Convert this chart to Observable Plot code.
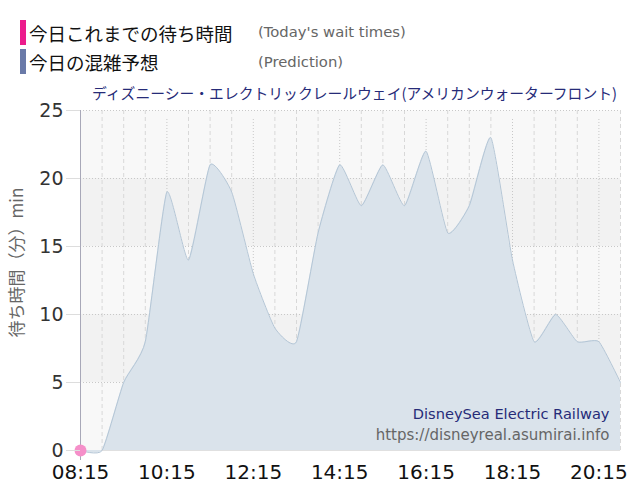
<!DOCTYPE html>
<html>
<head>
<meta charset="utf-8">
<script src="https://cdn.jsdelivr.net/npm/d3@7"></script>
<script src="https://cdn.jsdelivr.net/npm/@observablehq/plot@0.6"></script>
<style>
  body { margin: 0; background: #fff; font-family: "DejaVu Sans", "Noto Sans CJK JP", sans-serif; }
  #wrap { position: relative; width: 640px; height: 500px; overflow: hidden; }
  .leg { position: absolute; left: 20px; height: 25px; display: flex; align-items: center; }
  .bar { width: 6px; height: 25px; margin-right: 3px; }
  .ja { font-family: "Noto Sans CJK JP", sans-serif; font-size: 18.5px; color: #111; }
  .en { position: absolute; left: 258px; font-family: "DejaVu Sans", sans-serif; font-size: 14.8px; line-height: 16px; color: #666; }
  #title { position: absolute; right: 23px; top: 82px; font-family: "Noto Sans CJK JP", sans-serif; font-size: 14.8px; color: #262b78; white-space: nowrap; }
  #chart { position: absolute; left: 0; top: 80px; }
</style>
</head>
<body>
<div id="wrap">
  <div class="leg" style="top:20px"><div class="bar" style="background:#ec1c8c"></div><span class="ja">今日これまでの待ち時間</span></div>
  <div class="en" style="top:24px">(Today's wait times)</div>
  <div class="leg" style="top:49px"><div class="bar" style="background:#6a7aa8"></div><span class="ja">今日の混雑予想</span></div>
  <div class="en" style="top:54px">(Prediction)</div>
  <div id="title">ディズニーシー・エレクトリックレールウェイ(アメリカンウォーターフロント)</div>
  <div id="chart"></div>
</div>
<script>
// ---- data ----
const times = ["08:15","08:45","09:15","09:45","10:15","10:45","11:15","11:45","12:15","12:45","13:15","13:45","14:15","14:45","15:15","15:45","16:15","16:45","17:15","17:45","18:15","18:45","19:15","19:45","20:15","20:45"];
const predicted = [0,0,5,8,19,14,21,19,13,9,8,16,21,18,21,18,22,16,18,23,14,8,10,8,8,5];
const todayTimes = ["08:15"];
const todayWaits = [0];
const xTickLabels = ["08:15","10:15","12:15","14:15","16:15","18:15","20:15"];
const yTicks = [0,5,10,15,20,25];
const bandLow = [5,15];
const bandHigh = [10,20];
const yLabel = "待ち時間（分）min";
const watermark1 = "DisneySea Electric Railway";
const watermark2 = "https://disneyreal.asumirai.info";

// ---- helpers ----
const toMin = s => { const [h, m] = s.split(":").map(Number); return h * 60 + m; };
const fmt = v => String(Math.floor(v / 60)).padStart(2, "0") + ":" + String(v % 60).padStart(2, "0");
const predData = times.map((t, i) => ({t: toMin(t), v: predicted[i]}));
const todayData = todayTimes.map((t, i) => ({t: toMin(t), v: todayWaits[i]}));
const xStart = toMin(times[0]), xEnd = toMin(times[times.length - 1]);
const majorMins = xTickLabels.map(toMin);
const gridMins = times.map(toMin).filter(m => m !== xStart);
const bands = bandLow.map((lo, i) => ({lo, hi: bandHigh[i]}));
const curve = d3.curveCardinal.tension(0.5);

const chart = Plot.plot({
  width: 640,
  height: 420,
  marginTop: 30,
  marginBottom: 50,
  marginLeft: 80,
  marginRight: 20,
  style: {fontFamily: "'DejaVu Sans', 'Noto Sans CJK JP', sans-serif", fontSize: "18px", background: "transparent", overflow: "visible"},
  x: {domain: [xStart, xEnd], axis: null},
  y: {domain: [0, 25], axis: null},
  marks: [
    Plot.frame({fill: "#f8f8f8", stroke: "none"}),
    Plot.rect(bands, {x1: () => xStart, x2: () => xEnd, y1: "lo", y2: "hi", fill: "#f2f2f2"}),
    Plot.ruleX(gridMins.filter(m => !majorMins.includes(m)), {stroke: "#d8d8d8", strokeDasharray: "4,3", strokeWidth: 1}),
    Plot.ruleX(gridMins.filter(m => majorMins.includes(m)), {stroke: "#c8c8c8", strokeDasharray: "1,2", strokeWidth: 1, y1: 0, y2: 25, insetBottom: -8}),
    Plot.ruleY(yTicks.filter(v => v > 0), {stroke: "#c8c8c8", strokeDasharray: "1,2", strokeWidth: 1}),
    Plot.ruleY([0], {stroke: "#e0e0e0", strokeWidth: 1}),
    Plot.areaY(predData, {x: "t", y: "v", curve, fill: "#dae3eb", fillOpacity: 1}),
    Plot.lineY(predData, {x: "t", y: "v", curve, stroke: "#b4c6d6", strokeWidth: 1}),
    Plot.ruleX([xStart], {stroke: "#a8a8b8", strokeWidth: 1, insetBottom: -10}),
    Plot.dot(todayData, {x: "t", y: "v", r: 6, fill: "#f58fc9", stroke: "none"}),
    Plot.axisY({ticks: yTicks, tickSize: 14, tickPadding: 3, stroke: "#dddddd", fill: "#333", fontSize: 19, label: null}),
    Plot.axisX({ticks: majorMins, tickFormat: fmt, tickSize: 0, tickPadding: 14, fill: "#111", fontSize: 20, label: null}),
    Plot.text([yLabel], {frameAnchor: "left", textAnchor: "middle", dx: -63, dy: -18, rotate: -90, fill: "#666", fontSize: 17, fontFamily: "'Noto Sans CJK JP', sans-serif"}),
    Plot.text([watermark1], {frameAnchor: "bottom-right", dx: -11, dy: -32, fill: "#262b78", fontSize: 14.6, textAnchor: "end"}),
    Plot.text([watermark2], {frameAnchor: "bottom-right", dx: -11, dy: -11, fill: "#666", fontSize: 15, textAnchor: "end"})
  ]
});
document.getElementById("chart").appendChild(chart);
</script>
</body>
</html>
